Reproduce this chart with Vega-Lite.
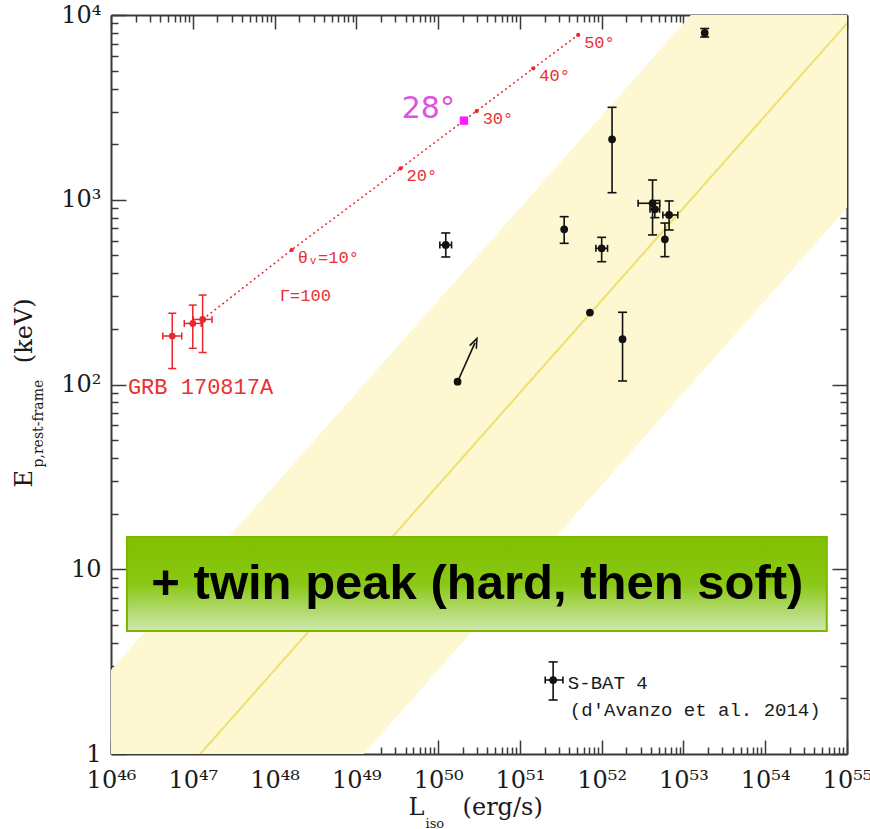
{
  "$schema": "https://vega.github.io/schema/vega-lite/v6.json",
  "width": 736,
  "height": 739,
  "autosize": {"type": "none"},
  "padding": {"left": 111, "top": 15, "right": 23, "bottom": 75},
  "background": "white",
  "config": {
    "view": {"stroke": null},
    "axis": {
      "domainColor": "#3a3a3a", "domainWidth": 2,
      "tickColor": "#3a3a3a", "tickWidth": 1.5,
      "grid": false, "zindex": 1,
      "labelFont": "DejaVu Serif", "labelFontSize": 24, "labelColor": "#1a1a1a",
      "titleFont": "DejaVu Serif", "titleFontWeight": "normal", "titleColor": "#1a1a1a",
      "labelOverlap": false, "labelFlush": false, "labelBound": false
    }
  },
  "datasets": {
    "band": [
      {"L": 1e46, "lo": 0.0285, "mid": 0.285, "hi": 2.85},
      {"L": 1e55, "lo": 902, "mid": 9016, "hi": 90157}
    ],
    "track": [
      {"L": 1.32e47, "E": 225, "label": ""},
      {"L": 1.62e48, "E": 535, "label": "θᵥ=10°"},
      {"L": 3.48e49, "E": 1480, "label": "20°"},
      {"L": 2.07e50, "E": 2680, "label": "28°"},
      {"L": 2.96e50, "E": 3020, "label": "30°"},
      {"L": 1.46e51, "E": 5145, "label": "40°"},
      {"L": 5.16e51, "E": 7800, "label": "50°"}
    ],
    "grb": [
      {"L": 5.61e46, "E": 183, "Elo": 122, "Ehi": 243, "Llo": 4.3e46, "Lhi": 7.33e46},
      {"L": 1.0e47, "E": 214, "Elo": 157, "Ehi": 269, "Llo": 7.87e46, "Lhi": 1.27e47},
      {"L": 1.32e47, "E": 225, "Elo": 149, "Ehi": 305, "Llo": 1.01e47, "Lhi": 1.72e47}
    ],
    "sbat": [
      {"L": 1.82e53, "E": 8000, "Elo": 7600, "Ehi": 8450, "Llo": null, "Lhi": null},
      {"L": 1.24e50, "E": 569, "Elo": 490, "Ehi": 661, "Llo": 1.05e50, "Lhi": 1.46e50},
      {"L": 3.48e51, "E": 692, "Elo": 581, "Ehi": 810, "Llo": null, "Lhi": null},
      {"L": 1.0e52, "E": 546, "Elo": 462, "Ehi": 626, "Llo": 8.5e51, "Lhi": 1.18e52},
      {"L": 1.34e52, "E": 2125, "Elo": 1092, "Ehi": 3165, "Llo": null, "Lhi": null},
      {"L": 4.19e52, "E": 957, "Elo": 645, "Ehi": 1279, "Llo": 2.79e52, "Lhi": 5.14e52},
      {"L": 4.47e52, "E": 888, "Elo": 800, "Ehi": 990, "Llo": 3.9e52, "Lhi": 5.1e52},
      {"L": 6.68e52, "E": 827, "Elo": 686, "Ehi": 985, "Llo": 5.6e52, "Lhi": 8.53e52},
      {"L": 5.93e52, "E": 611, "Elo": 492, "Ehi": 748, "Llo": null, "Lhi": null},
      {"L": 7.18e51, "E": 245, "Elo": null, "Ehi": null, "Llo": null, "Lhi": null},
      {"L": 1.8e52, "E": 176, "Elo": 104.5, "Ehi": 246, "Llo": null, "Lhi": null},
      {"L": 1.73e50, "E": 103.5, "Elo": null, "Ehi": null, "Llo": null, "Lhi": null},
      {"L": 2.55e51, "E": 2.515, "Elo": 1.96, "Ehi": 3.15, "Llo": 2.04e51, "Lhi": 3.36e51}
    ],
    "limit": [
      {"L": 1.73e50, "E": 103.5, "L2": 2.82e50, "E2": 168}
    ],
    "notes": [
      {"L": 1.16e48, "E": 301, "text": "Γ=100"},
      {"L": 1.61e46, "E": 96.9, "text": "GRB 170817A"},
      {"L": 3.86e51, "E": 2.42, "text": "S-BAT 4"},
      {"L": 4.08e51, "E": 1.73, "text": "(d'Avanzo et al. 2014)"}
    ],
    "box": [
      {"L1": 1.57e46, "L2": 5.66e54, "E1": 4.63, "E2": 14.95, "Lc": 3.02e50, "Ec": 8.32, "text": "+ twin peak (hard, then soft)"}
    ]
  },
  "layer": [
    {
      "data": {"name": "band"},
      "mark": {"type": "area", "color": "#fef8d2", "opacity": 1, "clip": true},
      "encoding": {
        "x": {"field": "L", "type": "quantitative",
          "scale": {"type": "log", "domain": [1e46, 1e55], "nice": false},
          "axis": {
            "orient": "bottom",
            "values": [1e46,2e46,3e46,4e46,5e46,6e46,7e46,8e46,9e46,1e47,2e47,3e47,4e47,5e47,6e47,7e47,8e47,9e47,1e48,2e48,3e48,4e48,5e48,6e48,7e48,8e48,9e48,1e49,2e49,3e49,4e49,5e49,6e49,7e49,8e49,9e49,1e50,2e50,3e50,4e50,5e50,6e50,7e50,8e50,9e50,1e51,2e51,3e51,4e51,5e51,6e51,7e51,8e51,9e51,1e52,2e52,3e52,4e52,5e52,6e52,7e52,8e52,9e52,1e53,2e53,3e53,4e53,5e53,6e53,7e53,8e53,9e53,1e54,2e54,3e54,4e54,5e54,6e54,7e54,8e54,9e54,1e55],
            "tickSize": {"condition": {"test": "abs(log(datum.value)/LN10-round(log(datum.value)/LN10))<1e-6", "value": -14}, "value": -7},
            "labelExpr": "abs(log(datum.value)/LN10-round(log(datum.value)/LN10))<1e-6 ? '10'+substring('⁰¹²³⁴⁵⁶⁷⁸⁹',floor(round(log(datum.value)/LN10)/10),floor(round(log(datum.value)/LN10)/10)+1)+substring('⁰¹²³⁴⁵⁶⁷⁸⁹',round(log(datum.value)/LN10)%10,round(log(datum.value)/LN10)%10+1) : ''",
            "labelPadding": 28,
            "title": "L\u00a0\u00a0\u00a0\u00a0\u00a0(erg/s)",
            "titleFontSize": 24, "titleAngle": 0, "titleAlign": "left", "titleBaseline": "alphabetic",
            "titleX": 297, "titleY": 60
          }
        },
        "y": {"field": "lo", "type": "quantitative",
          "scale": {"type": "log", "domain": [1, 10000], "nice": false},
          "axis": {
            "orient": "left",
            "values": [1,2,3,4,5,6,7,8,9,10,20,30,40,50,60,70,80,90,100,200,300,400,500,600,700,800,900,1000,2000,3000,4000,5000,6000,7000,8000,9000,10000],
            "tickSize": {"condition": {"test": "abs(log(datum.value)/LN10-round(log(datum.value)/LN10))<1e-6", "value": -15}, "value": -7},
            "labelExpr": "abs(log(datum.value)/LN10-round(log(datum.value)/LN10))<1e-6 ? (round(log(datum.value)/LN10)==0 ? '1' : round(log(datum.value)/LN10)==1 ? '10' : '10'+substring('⁰¹²³⁴⁵⁶⁷⁸⁹',round(log(datum.value)/LN10),round(log(datum.value)/LN10)+1)) : ''",
            "labelPadding": 25,
            "title": "E\u00a0\u00a0\u00a0\u00a0\u00a0\u00a0\u00a0\u00a0\u00a0\u00a0\u00a0\u00a0\u00a0\u00a0(keV)",
            "titleFontSize": 24, "titleAngle": 270, "titleAlign": "left", "titleBaseline": "alphabetic",
            "titleX": -80, "titleY": 472
          }
        },
        "y2": {"field": "hi"}
      }
    },
    {
      "data": {"name": "band"},
      "mark": {"type": "line", "color": "#f0df6a", "strokeWidth": 2, "clip": true},
      "encoding": {
        "x": {"field": "L", "type": "quantitative",
          "axis": {
            "orient": "top",
            "values": [1e46,2e46,3e46,4e46,5e46,6e46,7e46,8e46,9e46,1e47,2e47,3e47,4e47,5e47,6e47,7e47,8e47,9e47,1e48,2e48,3e48,4e48,5e48,6e48,7e48,8e48,9e48,1e49,2e49,3e49,4e49,5e49,6e49,7e49,8e49,9e49,1e50,2e50,3e50,4e50,5e50,6e50,7e50,8e50,9e50,1e51,2e51,3e51,4e51,5e51,6e51,7e51,8e51,9e51,1e52,2e52,3e52,4e52,5e52,6e52,7e52,8e52,9e52,1e53,2e53,3e53,4e53,5e53,6e53,7e53,8e53,9e53,1e54,2e54,3e54,4e54,5e54,6e54,7e54,8e54,9e54,1e55],
            "tickSize": {"condition": {"test": "abs(log(datum.value)/LN10-round(log(datum.value)/LN10))<1e-6", "value": -14}, "value": -7},
            "labels": false,
            "title": "iso",
            "titleFontSize": 13, "titleAngle": 0, "titleAlign": "left", "titleBaseline": "alphabetic",
            "titleX": 314, "titleY": 812
          }
        },
        "y": {"field": "mid", "type": "quantitative",
          "axis": {
            "orient": "right",
            "values": [1,2,3,4,5,6,7,8,9,10,20,30,40,50,60,70,80,90,100,200,300,400,500,600,700,800,900,1000,2000,3000,4000,5000,6000,7000,8000,9000,10000],
            "tickSize": {"condition": {"test": "abs(log(datum.value)/LN10-round(log(datum.value)/LN10))<1e-6", "value": -15}, "value": -7},
            "labels": false,
            "title": "p,rest-frame",
            "titleFontSize": 14, "titleAngle": 270, "titleAlign": "left", "titleBaseline": "alphabetic",
            "titleX": -805, "titleY": 452
          }
        }
      }
    },
    {
      "data": {"name": "track"},
      "mark": {"type": "line", "color": "#e8262e", "strokeWidth": 1.5, "strokeDash": [2, 3]},
      "encoding": {
        "x": {"field": "L", "type": "quantitative", "axis": null},
        "y": {"field": "E", "type": "quantitative", "axis": null}
      }
    },
    {
      "data": {"name": "track"},
      "transform": [{"filter": "datum.label != '' && datum.label != '28°'"}],
      "mark": {"type": "point", "filled": true, "color": "#e8262e", "size": 18, "opacity": 1},
      "encoding": {
        "x": {"field": "L", "type": "quantitative", "axis": null},
        "y": {"field": "E", "type": "quantitative", "axis": null}
      }
    },
    {
      "data": {"name": "track"},
      "transform": [{"filter": "datum.label == '28°'"}],
      "mark": {"type": "point", "shape": "square", "filled": true, "color": "#ff1aff", "size": 70, "opacity": 1},
      "encoding": {
        "x": {"field": "L", "type": "quantitative", "axis": null},
        "y": {"field": "E", "type": "quantitative", "axis": null}
      }
    },
    {
      "data": {"name": "track"},
      "transform": [{"filter": "datum.label != '' && datum.label != '28°'"}],
      "mark": {"type": "text", "align": "left", "baseline": "middle", "dx": 6, "dy": 8, "font": "Liberation Mono", "fontSize": 17, "color": "#e8302f"},
      "encoding": {
        "x": {"field": "L", "type": "quantitative", "axis": null},
        "y": {"field": "E", "type": "quantitative", "axis": null},
        "text": {"field": "label"}
      }
    },
    {
      "data": {"name": "track"},
      "transform": [{"filter": "datum.label == '28°'"}],
      "mark": {"type": "text", "align": "right", "baseline": "middle", "dx": -9, "dy": -12, "font": "DejaVu Sans", "fontSize": 30, "color": "#e052e0"},
      "encoding": {
        "x": {"field": "L", "type": "quantitative", "axis": null},
        "y": {"field": "E", "type": "quantitative", "axis": null},
        "text": {"field": "label"}
      }
    },
    {
      "data": {"name": "grb"},
      "mark": {"type": "rule", "color": "#e8262e", "strokeWidth": 1.5},
      "encoding": {
        "x": {"field": "L", "type": "quantitative", "axis": null},
        "y": {"field": "Elo", "type": "quantitative", "axis": null},
        "y2": {"field": "Ehi"}
      }
    },
    {
      "data": {"name": "grb"},
      "transform": [{"fold": ["Elo", "Ehi"], "as": ["k", "v"]}],
      "mark": {"type": "tick", "orient": "horizontal", "color": "#e8262e", "size": 8, "thickness": 1.5, "opacity": 1},
      "encoding": {
        "x": {"field": "L", "type": "quantitative", "axis": null},
        "y": {"field": "v", "type": "quantitative", "axis": null}
      }
    },
    {
      "data": {"name": "grb"},
      "mark": {"type": "rule", "color": "#e8262e", "strokeWidth": 1.5},
      "encoding": {
        "x": {"field": "Llo", "type": "quantitative", "axis": null},
        "x2": {"field": "Lhi"},
        "y": {"field": "E", "type": "quantitative", "axis": null}
      }
    },
    {
      "data": {"name": "grb"},
      "transform": [{"fold": ["Llo", "Lhi"], "as": ["k", "v"]}],
      "mark": {"type": "tick", "orient": "vertical", "color": "#e8262e", "size": 7, "thickness": 1.5, "opacity": 1},
      "encoding": {
        "x": {"field": "v", "type": "quantitative", "axis": null},
        "y": {"field": "E", "type": "quantitative", "axis": null}
      }
    },
    {
      "data": {"name": "grb"},
      "mark": {"type": "point", "filled": true, "color": "#e8262e", "size": 45, "opacity": 1},
      "encoding": {
        "x": {"field": "L", "type": "quantitative", "axis": null},
        "y": {"field": "E", "type": "quantitative", "axis": null}
      }
    },
    {
      "data": {"name": "sbat"},
      "transform": [{"filter": "isValid(datum.Elo)"}],
      "mark": {"type": "rule", "color": "#111111", "strokeWidth": 1.6},
      "encoding": {
        "x": {"field": "L", "type": "quantitative", "axis": null},
        "y": {"field": "Elo", "type": "quantitative", "axis": null},
        "y2": {"field": "Ehi"}
      }
    },
    {
      "data": {"name": "sbat"},
      "transform": [{"filter": "isValid(datum.Elo)"}, {"fold": ["Elo", "Ehi"], "as": ["k", "v"]}],
      "mark": {"type": "tick", "orient": "horizontal", "color": "#111111", "size": 9, "thickness": 1.6, "opacity": 1},
      "encoding": {
        "x": {"field": "L", "type": "quantitative", "axis": null},
        "y": {"field": "v", "type": "quantitative", "axis": null}
      }
    },
    {
      "data": {"name": "sbat"},
      "transform": [{"filter": "isValid(datum.Llo)"}],
      "mark": {"type": "rule", "color": "#111111", "strokeWidth": 1.6},
      "encoding": {
        "x": {"field": "Llo", "type": "quantitative", "axis": null},
        "x2": {"field": "Lhi"},
        "y": {"field": "E", "type": "quantitative", "axis": null}
      }
    },
    {
      "data": {"name": "sbat"},
      "transform": [{"filter": "isValid(datum.Llo)"}, {"fold": ["Llo", "Lhi"], "as": ["k", "v"]}],
      "mark": {"type": "tick", "orient": "vertical", "color": "#111111", "size": 7, "thickness": 1.6, "opacity": 1},
      "encoding": {
        "x": {"field": "v", "type": "quantitative", "axis": null},
        "y": {"field": "E", "type": "quantitative", "axis": null}
      }
    },
    {
      "data": {"name": "sbat"},
      "mark": {"type": "point", "filled": true, "color": "#111111", "size": 60, "opacity": 1},
      "encoding": {
        "x": {"field": "L", "type": "quantitative", "axis": null},
        "y": {"field": "E", "type": "quantitative", "axis": null}
      }
    },
    {
      "data": {"name": "limit"},
      "mark": {"type": "rule", "color": "#111111", "strokeWidth": 1.6},
      "encoding": {
        "x": {"field": "L", "type": "quantitative", "axis": null},
        "y": {"field": "E", "type": "quantitative", "axis": null},
        "x2": {"field": "L2"},
        "y2": {"field": "E2"}
      }
    },
    {
      "data": {"name": "limit"},
      "mark": {"type": "point", "shape": "M-0.7,0.9L0,-0.9L0.7,0.9", "filled": false, "color": "#111111", "strokeWidth": 1.6, "size": 110, "angle": 24, "opacity": 1},
      "encoding": {
        "x": {"field": "L2", "type": "quantitative", "axis": null},
        "y": {"field": "E2", "type": "quantitative", "axis": null}
      }
    },
    {
      "data": {"name": "notes"},
      "transform": [{"filter": "datum.text == 'Γ=100'"}],
      "mark": {"type": "text", "align": "left", "baseline": "middle", "font": "Liberation Mono", "fontSize": 17, "color": "#e8302f"},
      "encoding": {
        "x": {"field": "L", "type": "quantitative", "axis": null},
        "y": {"field": "E", "type": "quantitative", "axis": null},
        "text": {"field": "text"}
      }
    },
    {
      "data": {"name": "notes"},
      "transform": [{"filter": "datum.text == 'GRB 170817A'"}],
      "mark": {"type": "text", "align": "left", "baseline": "middle", "font": "Liberation Mono", "fontSize": 22, "color": "#e8302f"},
      "encoding": {
        "x": {"field": "L", "type": "quantitative", "axis": null},
        "y": {"field": "E", "type": "quantitative", "axis": null},
        "text": {"field": "text"}
      }
    },
    {
      "data": {"name": "notes"},
      "transform": [{"filter": "datum.text == 'S-BAT 4' || datum.text == \"(d'Avanzo et al. 2014)\""}],
      "mark": {"type": "text", "align": "left", "baseline": "middle", "font": "Liberation Mono", "fontSize": 19, "color": "#1a1a1a"},
      "encoding": {
        "x": {"field": "L", "type": "quantitative", "axis": null},
        "y": {"field": "E", "type": "quantitative", "axis": null},
        "text": {"field": "text"}
      }
    },
    {
      "data": {"name": "box"},
      "mark": {
        "type": "rect",
        "fill": {"gradient": "linear", "x1": 0, "y1": 0, "x2": 0, "y2": 1,
          "stops": [
            {"offset": 0, "color": "#80c000"},
            {"offset": 0.5, "color": "#8ac815"},
            {"offset": 1, "color": "#cfe8b0"}
          ]},
        "stroke": "#7ab800", "strokeWidth": 2
      },
      "encoding": {
        "x": {"field": "L1", "type": "quantitative", "axis": null},
        "x2": {"field": "L2"},
        "y": {"field": "E1", "type": "quantitative", "axis": null},
        "y2": {"field": "E2"}
      }
    },
    {
      "data": {"name": "box"},
      "mark": {"type": "text", "align": "center", "baseline": "middle", "font": "Liberation Sans", "fontWeight": "bold", "fontSize": 49, "color": "#000000"},
      "encoding": {
        "x": {"field": "Lc", "type": "quantitative", "axis": null},
        "y": {"field": "Ec", "type": "quantitative", "axis": null},
        "text": {"field": "text"}
      }
    }
  ],
  "resolve": {"axis": {"x": "independent", "y": "independent"}}
}
